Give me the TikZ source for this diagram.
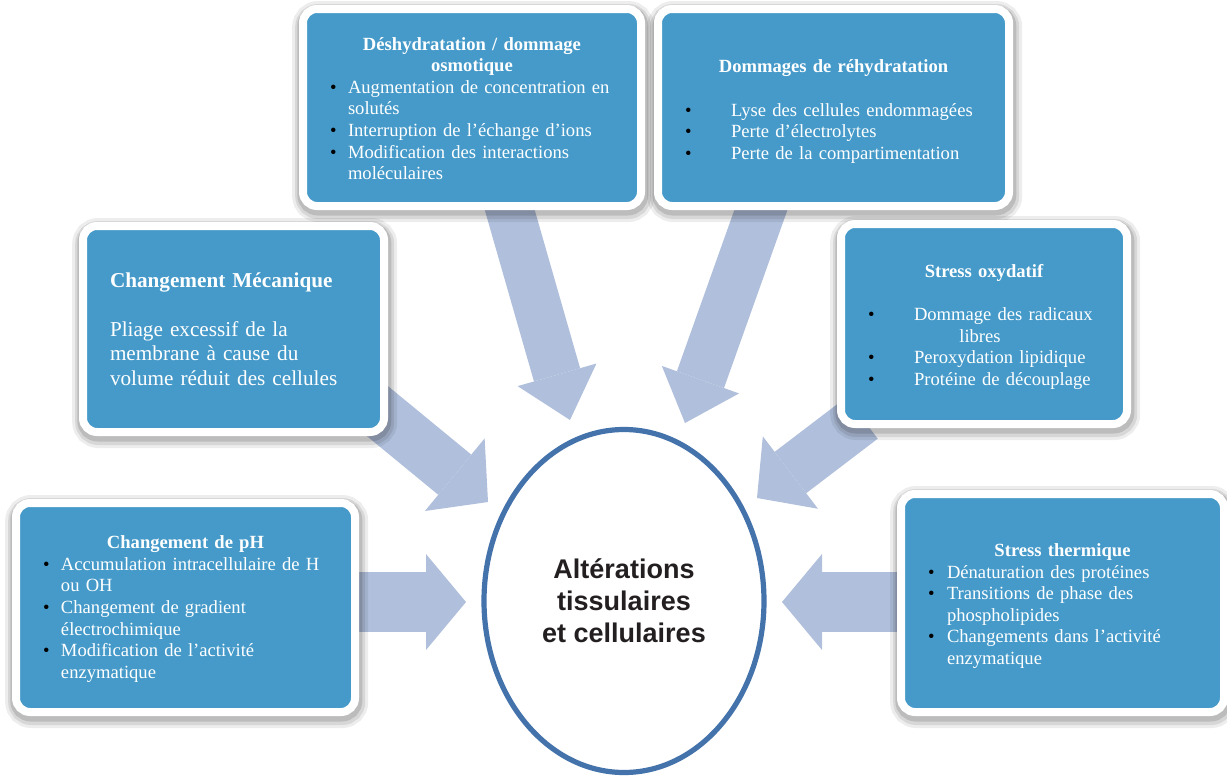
\documentclass[tikz,border=0pt]{standalone}
\usepackage{fontspec}
\setmainfont{Liberation Serif}
\newfontfamily\ringfont{Liberation Sans}
\usetikzlibrary{arrows.meta,shapes.geometric}

\definecolor{boxblue}{RGB}{69,154,201}
\definecolor{arrowblue}{RGB}{176,192,220}
\definecolor{ringblue}{RGB}{68,114,171}
\definecolor{inkblack}{RGB}{35,31,32}

\newcommand{\blt}[1][9pt]{\makebox[#1][l]{\textcolor{black}{\textbullet}}}
\newcommand{\ttl}[1]{\makebox[\hsize]{\bfseries #1}}
\newcommand{\topgap}[1]{\rule{0pt}{#1}}

\tikzset{
  halo/.style={draw=black, opacity=#1, fill=none},
  cause/.style={draw=white, line width=4pt, fill=boxblue, rounded corners=7pt,
    inner xsep=13.5pt, inner ysep=0pt, text=white, align=left,
    font=\fontsize{9.3}{10.8}\selectfont,
    preaction={halo=.07, line width=12pt, transform canvas={xshift=.6pt,yshift=-2pt}},
    preaction={halo=.09, line width=9pt, transform canvas={xshift=.6pt,yshift=-2pt}},
    preaction={halo=.12, line width=6.5pt, transform canvas={xshift=.4pt,yshift=-1.5pt}}},
  bigarrow/.style args={#1/#2/#3}{draw=arrowblue, line width=#1,
    -{Triangle[width=#2, length=#3, line width=0pt]}}
}

\begin{document}
\begin{tikzpicture}[x=0.5pt,y=-0.5pt]
\fill[white] (0,0) rectangle (1227,776);
\useasboundingbox (0,0) rectangle (1227,776);

% arrows, under the boxes
\coordinate (deshyd-in) at (504,190);  \coordinate (deshyd-tip) at (570,420);
\coordinate (rehyd-in) at (768,190);   \coordinate (rehyd-tip) at (685,423);
\coordinate (meca-in) at (370,405);    \coordinate (meca-tip) at (488,502);
\coordinate (oxy-in) at (862,418);     \coordinate (oxy-tip) at (757,498);
\coordinate (ph-in) at (352,602);      \coordinate (ph-tip) at (466,602);
\coordinate (thermo-in) at (902,602);  \coordinate (thermo-tip) at (782,602);

\draw[bigarrow=24pt/41pt/23.5pt] (deshyd-in) -- (deshyd-tip);
\draw[bigarrow=25pt/41pt/23pt] (rehyd-in) -- (rehyd-tip);
\draw[bigarrow=26pt/47pt/21.5pt] (meca-in) -- (meca-tip);
\draw[bigarrow=26pt/45.5pt/21pt] (oxy-in) -- (oxy-tip);
\draw[bigarrow=30pt/48pt/20pt] (ph-in) -- (ph-tip);
\draw[bigarrow=30pt/48pt/20pt] (thermo-in) -- (thermo-tip);

% boxes
\node[cause, text width=142pt, minimum height=98.5pt] (deshyd) at (472,107.5) {%
\ttl{\topgap{7.5pt}Déshydratation / dommage}\\
\ttl{osmotique}\\
\blt Augmentation de concentration en\\
\hspace*{9pt}solutés\\
\blt Interruption de l’échange d’ions\\
\blt Modification des interactions\\
\hspace*{9pt}moléculaires};

\node[cause, text width=148.5pt, minimum height=98.5pt] (rehyd) at (833.5,107.5) {%
\ttl{\topgap{10.5pt}Dommages de réhydratation}\\[10.8pt]
\blt[23pt]Lyse des cellules endommagées\\
\blt[23pt]Perte d’électrolytes\\
\blt[23pt]Perte de la compartimentation};

\node[cause, text width=123.5pt, minimum height=103pt,
  font=\fontsize{10.6}{12.25}\selectfont] (meca) at (233.5,329) {%
{\bfseries Changement Mécanique}\\[12.25pt]
Pliage excessif de la\\
membrane à cause du\\
volume réduit des cellules};

\node[cause, text width=116pt, minimum height=100pt] (oxy) at (984,324) {%
\ttl{\topgap{9.5pt}Stress oxydatif}\\[10.8pt]
\blt[23pt]Dommage des radicaux\\
\makebox[\hsize]{\hspace*{-4pt}libres}\\
\blt[23pt]Peroxydation lipidique\\
\blt[23pt]Protéine de découplage};

\node[cause, text width=142.5pt, minimum height=104.5pt] (ph) at (185.5,607.5) {%
\ttl{\topgap{8pt}Changement de pH}\\
\blt Accumulation intracellulaire de H\\
\hspace*{9pt}ou OH\\
\blt Changement de gradient\\
\hspace*{9pt}électrochimique\\
\blt Modification de l’activité\\
\hspace*{9pt}enzymatique};

\node[cause, text width=134.5pt, minimum height=109pt] (thermo) at (1062.5,603) {%
\ttl{\topgap{9.5pt}Stress thermique}\\
\blt[9.5pt]Dénaturation des protéines\\
\blt[9.5pt]Transitions de phase des\\
\hspace*{9.5pt}phospholipides\\
\blt[9.5pt]Changements dans l’activité\\
\hspace*{9.5pt}enzymatique};

% centre
\node[ellipse, draw=ringblue, line width=2.6pt, fill=white, inner sep=0pt,
  minimum width=140pt, minimum height=171.5pt, align=center, text=inkblack,
  font=\ringfont\bfseries\fontsize{13.5}{16}\selectfont] (centre) at (624,601)
  {Altérations\\tissulaires\\et cellulaires};
\end{tikzpicture}
\end{document}
